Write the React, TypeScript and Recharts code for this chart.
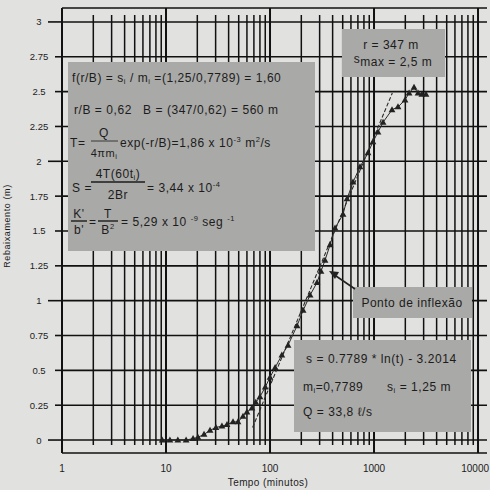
import React from "react";
import {
  ComposedChart,
  Line,
  XAxis,
  YAxis,
  CartesianGrid,
  ReferenceLine,
} from "recharts";

// tempo (minutos) e rebaixamento (m)
const tempo = [
  9.2, 10.9, 13, 15.6, 18.2, 20.3, 23.2, 26.5, 30.2, 34.5, 38.6, 44.1, 49.2,
  55, 60, 67, 73, 80, 90, 100, 112, 130, 149, 182, 208, 243, 283, 309, 338,
  378, 422, 504, 550, 628, 733, 875, 977, 1092, 1222, 1490, 1700, 1986, 2173,
  2425, 2650, 2885, 3160,
];
const rebaixamento = [
  0, 0, 0, 0, 0.01, 0.02, 0.04, 0.07, 0.09, 0.1, 0.11, 0.13, 0.13, 0.17, 0.2,
  0.23, 0.27, 0.31, 0.38, 0.45, 0.52, 0.61, 0.68, 0.82, 0.93, 1.04, 1.13,
  1.21, 1.29, 1.4, 1.52, 1.62, 1.73, 1.85, 1.96, 2.06, 2.14, 2.21, 2.28, 2.37,
  2.39, 2.44, 2.49, 2.53, 2.49, 2.48, 2.48,
];

// reta de ajuste (extremos lidos)
const tempoAjuste = [68, 1500];
const rebaixAjuste = [0.09, 2.49];

const decadas = [1, 10, 100, 1000, 10000];
const gradeX = [
  1, 2, 3, 4, 5, 6, 7, 8, 9, 10, 20, 30, 40, 50, 60, 70, 80, 90, 100, 200,
  300, 400, 500, 600, 700, 800, 900, 1000, 2000, 3000, 4000, 5000, 6000, 7000,
  8000, 9000, 10000,
];
const ticksY = [0, 0.25, 0.5, 0.75, 1, 1.25, 1.5, 1.75, 2, 2.25, 2.5, 2.75, 3];

const pontos = tempo.map((t, i) => ({ t, s: rebaixamento[i] }));
const ajuste = tempoAjuste.map((t, i) => ({ t, s: rebaixAjuste[i] }));

const FONTE = "'Liberation Sans', Arial, sans-serif";
const TINTA = "#1c1c1c";
const CAIXA = "#a9a9a7";

const Triangulo = (props: any) => {
  const { cx, cy } = props;
  if (cx == null || cy == null) return null;
  return (
    <path
      d={`M${cx},${cy - 3.6} L${cx + 3.4},${cy + 2.4} L${cx - 3.4},${cy + 2.4} Z`}
      fill="#222"
    />
  );
};

const TickY = (props: any) => {
  const { x, y, payload } = props;
  const major = Number.isInteger(payload.value);
  const x0 = x + 6;
  return (
    <g>
      <line
        x1={x0 + (major ? 0 : 7)}
        x2={x0 + 14}
        y1={y}
        y2={y}
        stroke="#111"
        strokeWidth={1.6}
      />
      <text
        x={x - 3}
        y={y}
        dy={3.5}
        textAnchor="middle"
        fontSize={9.5}
        fontFamily={FONTE}
        fill={TINTA}
      >
        {String(payload.value)}
      </text>
    </g>
  );
};

const TickX = (props: any) => {
  const { x, y, payload } = props;
  if (!decadas.includes(payload.value)) return null;
  // o ultimo rotulo encosta na borda direita
  const ultimo = payload.value === decadas[decadas.length - 1];
  return (
    <text
      x={ultimo ? x + 11 : x}
      y={y}
      dy={9}
      textAnchor={ultimo ? "end" : "middle"}
      fontSize={10}
      fontFamily={FONTE}
      fill={TINTA}
    >
      {String(payload.value)}
    </text>
  );
};

const Anotacoes = () => (
  <svg
    width={490}
    height={490}
    style={{ position: "absolute", left: 0, top: 0, pointerEvents: "none" }}
    fontFamily={FONTE}
    fill={TINTA}
  >
    {/* titulos dos eixos */}
    <text
      x={7}
      y={226}
      transform="rotate(-90 7 226)"
      textAnchor="middle"
      dy={3}
      fontSize={9}
      letterSpacing={0.6}
    >
      Rebaixamento (m)
    </text>
    <text x={268} y={486} textAnchor="middle" fontSize={10} letterSpacing={0.4}>
      Tempo (minutos)
    </text>

    {/* caixa grande */}
    <rect x={68} y={62} width={247} height={189} fill={CAIXA} />
    <g fontSize={12} letterSpacing={0.55}>
      <text x={72} y={82}>
        f(r/B) = s<tspan fontSize={7.5} dy={2}>i</tspan>
        <tspan dy={-2}> / m</tspan>
        <tspan fontSize={7.5} dy={2}>i</tspan>
        <tspan dy={-2}> =(1,25/0,7789) = 1,60</tspan>
      </text>
      <text x={74} y={114}>r/B = 0,62</text>
      <text x={143} y={114}>B = (347/0,62) = 560 m</text>

      <text x={70} y={147}>T=</text>
      <text x={104} y={137} textAnchor="middle">Q</text>
      <line x1={91} x2={118} y1={141} y2={141} stroke={TINTA} strokeWidth={0.8} />
      <text x={104} y={157} textAnchor="middle" fontSize={11}>
        4πm<tspan fontSize={7.5} dy={2}>i</tspan>
      </text>
      <text x={120} y={147}>
        exp(-r/B)=1,86 x 10<tspan fontSize={7.5} dy={-5}>-3</tspan>
        <tspan dy={5}> m</tspan>
        <tspan fontSize={7.5} dy={-5}>2</tspan>
        <tspan dy={5}>/s</tspan>
      </text>

      <text x={72} y={192}>S =</text>
      <text x={118} y={178} textAnchor="middle">
        4T(60t<tspan fontSize={7.5} dy={2}>i</tspan>
        <tspan dy={-2}>)</tspan>
      </text>
      <line x1={91} x2={145} y1={182} y2={182} stroke={TINTA} strokeWidth={1.6} />
      <text x={118} y={199} textAnchor="middle">2Br</text>
      <text x={147} y={192}>
        = 3,44 x 10<tspan fontSize={7.5} dy={-5}>-4</tspan>
      </text>

      <text x={79} y={218} textAnchor="middle">K'</text>
      <line x1={71} x2={87} y1={221} y2={221} stroke={TINTA} strokeWidth={1.4} />
      <text x={79} y={234} textAnchor="middle">b'</text>
      <text x={89} y={226}>=</text>
      <text x={108} y={218} textAnchor="middle">T</text>
      <line x1={98} x2={118} y1={221} y2={221} stroke={TINTA} strokeWidth={1.4} />
      <text x={108} y={234} textAnchor="middle">
        B<tspan fontSize={7.5} dy={-5}>2</tspan>
      </text>
      <text x={121} y={226}>
        = 5,29 x 10 <tspan fontSize={7.5} dy={-5}>-9</tspan>
        <tspan dy={5}> seg </tspan>
        <tspan fontSize={7.5} dy={-5}>-1</tspan>
      </text>
    </g>

    {/* r e smax */}
    <rect x={342} y={29} width={103} height={48} fill={CAIXA} />
    <g fontSize={12} letterSpacing={0.5} textAnchor="middle">
      <text x={391} y={49}>r = 347 m</text>
      <text x={393} y={66}>
        <tspan dy={-3}>s</tspan>
        <tspan dy={3}>max</tspan> = 2,5 m
      </text>
    </g>

    {/* ponto de inflexao */}
    <rect x={353} y={287} width={119} height={31} fill={CAIXA} />
    <text x={412} y={307} textAnchor="middle" fontSize={12} letterSpacing={0.5}>
      Ponto de inflexão
    </text>
    <line x1={355} y1={289} x2={336} y2={276} stroke="#222" strokeWidth={1.6} />
    <path d="M329,271 L339,272 L335,279 Z" fill="#222" />

    {/* equacao da reta */}
    <rect x={294} y={340} width={177} height={92} fill={CAIXA} />
    <g fontSize={12} letterSpacing={0.55}>
      <text x={306} y={363}>s = 0.7789 * ln(t) - 3.2014</text>
      <text x={303} y={391}>
        m<tspan fontSize={7.5} dy={2}>i</tspan>
        <tspan dy={-2}>=0,7789</tspan>
      </text>
      <text x={387} y={391}>
        s<tspan fontSize={7.5} dy={2}>i</tspan>
        <tspan dy={-2}> = 1,25 m</tspan>
      </text>
      <text x={303} y={416}>Q = 33,8 ℓ/s</text>
    </g>
  </svg>
);

export default function App() {
  return (
    <div
      style={{
        position: "absolute",
        left: 0,
        top: 0,
        width: 490,
        height: 490,
        background: "#e1e1df",
        overflow: "hidden",
      }}
    >
      <ComposedChart
        width={490}
        height={490}
        margin={{ top: 8, right: 3, bottom: 0, left: 0 }}
      >
        <CartesianGrid
          vertical={false}
          horizontal
          stroke="#111"
          strokeWidth={1.6}
          fill="none"
        />
        <XAxis
          dataKey="t"
          type="number"
          scale="log"
          domain={[1, 12200]}
          allowDataOverflow
          ticks={gradeX}
          interval={0}
          height={37}
          axisLine={false}
          tickLine={false}
          tickSize={6}
          tickMargin={4}
          tick={<TickX />}
        />
        <YAxis
          type="number"
          domain={[-0.093, 3.1]}
          allowDataOverflow
          ticks={ticksY}
          interval={0}
          width={62}
          axisLine={false}
          tickLine={false}
          tickSize={14}
          tickMargin={6}
          tick={<TickY />}
        />
        {gradeX.map((v) =>
          decadas.includes(v) ? (
            <ReferenceLine
              key={v}
              x={v}
              stroke="#111"
              strokeWidth={2}
              ifOverflow="visible"
            />
          ) : (
            <ReferenceLine
              key={v}
              segment={[
                { x: v, y: 3.05 },
                { x: v, y: -0.036 },
              ]}
              stroke="#111"
              strokeWidth={1.5}
              ifOverflow="visible"
            />
          )
        )}
        <Line
          data={ajuste}
          dataKey="s"
          type="linear"
          stroke="#2a2a2a"
          strokeWidth={1.1}
          strokeDasharray="4 2"
          dot={false}
          isAnimationActive={false}
        />
        <Line
          data={pontos}
          dataKey="s"
          type="linear"
          stroke="#2a2a2a"
          strokeWidth={1}
          dot={<Triangulo />}
          isAnimationActive={false}
        />
      </ComposedChart>
      <Anotacoes />
    </div>
  );
}
